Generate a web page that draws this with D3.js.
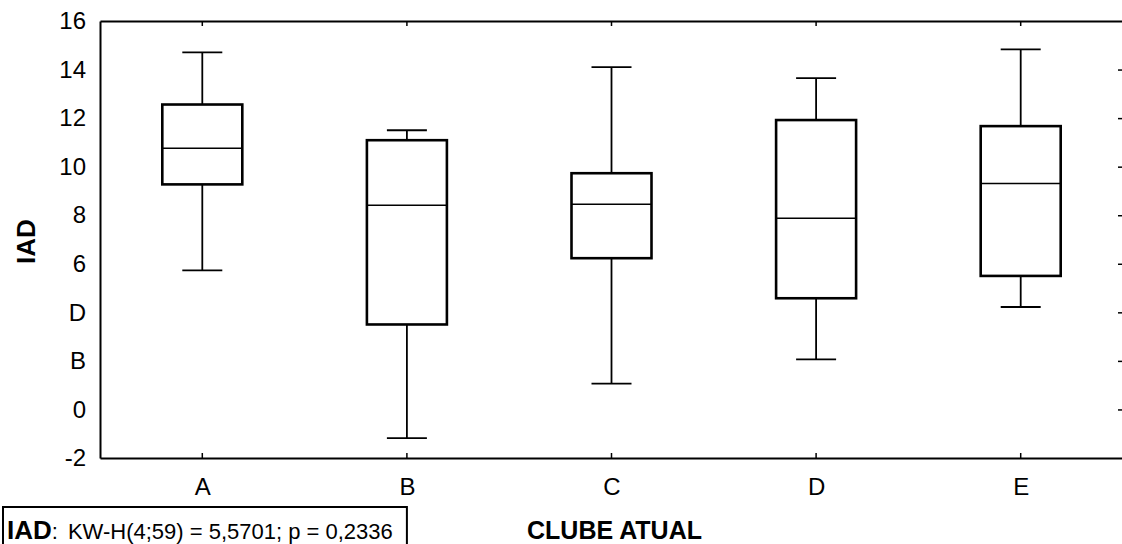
<!DOCTYPE html>
<html>
<head>
<meta charset="utf-8">
<script src="https://cdn.jsdelivr.net/npm/d3@7"></script>
<style>
  body { margin: 0; background: #fff; }
  svg { display: block; font-family: "Liberation Sans", Arial, sans-serif; }
</style>
</head>
<body>
<svg id="chart" width="1122" height="544"></svg>
<script>
// Data
var categories = ["A", "B", "C", "D", "E"];
var whiskerLow = [5.73, -1.18, 1.06, 2.06, 4.22];
var boxLow = [9.27, 3.50, 6.23, 4.58, 5.50];
var medians = [10.76, 8.41, 8.45, 7.88, 9.31];
var boxHigh = [12.56, 11.09, 9.73, 11.92, 11.67];
var whiskerHigh = [14.71, 11.50, 14.10, 13.65, 14.83];

var yTickValues = [-2, 0, 2, 4, 6, 8, 10, 12, 14, 16];
var yTickLabels = ["-2", "0", "B", "D", "6", "8", "10", "12", "14", "16"];

var xTitle = "CLUBE ATUAL";
var yTitle = "IAD";
var statLabel = "IAD";
var statText = "KW-H(4;59) = 5,5701; p = 0,2336";

const margin = { left: 100, right: 1123, top: 21, bottom: 458 };

const svg = d3.select("#chart");

const xScale = d3.scalePoint()
  .domain(categories)
  .range([margin.left, margin.right])
  .padding(0.5);

const yScale = d3.scaleLinear()
  .domain([-2, 16])
  .range([margin.bottom, margin.top]);

var boxes = categories.map(function (c, i) {
  return { cat: c, wl: whiskerLow[i], q1: boxLow[i], med: medians[i], q3: boxHigh[i], wh: whiskerHigh[i] };
});

// Left axis with labels
var yAxis = svg.append("g")
  .attr("transform", `translate(${margin.left},0)`)
  .call(d3.axisLeft(yScale)
    .tickValues(yTickValues)
    .tickFormat(function (d, i) { return yTickLabels[i]; })
    .tickSize(0)
    .tickPadding(14));
yAxis.select(".domain").attr("stroke", "#000").attr("stroke-width", 2);
yAxis.selectAll("text").style("font-size", "24px").attr("fill", "#000");

// Right side ticks (no labels)
var rightAxis = svg.append("g")
  .attr("transform", `translate(1122,0)`)
  .call(d3.axisLeft(yScale)
    .tickValues(yTickValues.slice(1, -1))
    .tickFormat("")
    .tickSize(4));
rightAxis.select(".domain").remove();
rightAxis.selectAll("line").attr("stroke", "#000").attr("stroke-width", 1.5);

// Bottom axis
var xAxis = svg.append("g")
  .attr("transform", `translate(0,${margin.bottom})`)
  .call(d3.axisBottom(xScale).tickSize(0).tickPadding(20).tickSizeOuter(0));
xAxis.select(".domain").attr("stroke", "#000").attr("stroke-width", 2);
xAxis.selectAll("text").style("font-size", "24px").attr("fill", "#000");

// inner tick marks on bottom and top borders
svg.append("g").selectAll("line")
  .data(categories)
  .enter()
  .append("line")
  .attr("x1", function (d) { return xScale(d); })
  .attr("x2", function (d) { return xScale(d); })
  .attr("y1", margin.bottom)
  .attr("y2", margin.bottom - 5)
  .attr("stroke", "#000")
  .attr("stroke-width", 1.5);

var topAxis = svg.append("g")
  .attr("transform", `translate(0,${margin.top})`)
  .call(d3.axisTop(xScale).tickSize(0).tickFormat("").tickSizeOuter(0));
topAxis.select(".domain").attr("stroke", "#000").attr("stroke-width", 2);

svg.append("g").selectAll("line")
  .data(categories)
  .enter()
  .append("line")
  .attr("x1", function (d) { return xScale(d); })
  .attr("x2", function (d) { return xScale(d); })
  .attr("y1", margin.top)
  .attr("y2", margin.top + 5)
  .attr("stroke", "#000")
  .attr("stroke-width", 1.5);

// Boxes
var boxW = 80, capW = 40;
var g = svg.append("g")
  .selectAll("g")
  .data(boxes)
  .enter()
  .append("g");

// whiskers
g.append("line")
  .attr("x1", function (d) { return xScale(d.cat); })
  .attr("x2", function (d) { return xScale(d.cat); })
  .attr("y1", function (d) { return yScale(d.wh); })
  .attr("y2", function (d) { return yScale(d.q3); })
  .attr("stroke", "#000").attr("stroke-width", 1.8);
g.append("line")
  .attr("x1", function (d) { return xScale(d.cat); })
  .attr("x2", function (d) { return xScale(d.cat); })
  .attr("y1", function (d) { return yScale(d.q1); })
  .attr("y2", function (d) { return yScale(d.wl); })
  .attr("stroke", "#000").attr("stroke-width", 1.8);
// caps
g.append("line")
  .attr("x1", function (d) { return xScale(d.cat) - capW / 2; })
  .attr("x2", function (d) { return xScale(d.cat) + capW / 2; })
  .attr("y1", function (d) { return yScale(d.wh); })
  .attr("y2", function (d) { return yScale(d.wh); })
  .attr("stroke", "#000").attr("stroke-width", 1.8);
g.append("line")
  .attr("x1", function (d) { return xScale(d.cat) - capW / 2; })
  .attr("x2", function (d) { return xScale(d.cat) + capW / 2; })
  .attr("y1", function (d) { return yScale(d.wl); })
  .attr("y2", function (d) { return yScale(d.wl); })
  .attr("stroke", "#000").attr("stroke-width", 1.8);
// box
g.append("rect")
  .attr("x", function (d) { return xScale(d.cat) - boxW / 2; })
  .attr("width", boxW)
  .attr("y", function (d) { return yScale(d.q3); })
  .attr("height", function (d) { return yScale(d.q1) - yScale(d.q3); })
  .attr("fill", "#fff")
  .attr("stroke", "#000")
  .attr("stroke-width", 2.6);
// median
g.append("line")
  .attr("x1", function (d) { return xScale(d.cat) - boxW / 2; })
  .attr("x2", function (d) { return xScale(d.cat) + boxW / 2; })
  .attr("y1", function (d) { return yScale(d.med); })
  .attr("y2", function (d) { return yScale(d.med); })
  .attr("stroke", "#000").attr("stroke-width", 1.5);

// Axis titles
svg.append("text")
  .attr("transform", `translate(35,${(margin.top + margin.bottom) / 2 + 2}) rotate(-90)`)
  .attr("text-anchor", "middle")
  .style("font-size", "26px")
  .style("font-weight", "bold")
  .text(yTitle);

svg.append("text")
  .attr("x", xScale("C") + 3)
  .attr("y", 539)
  .attr("text-anchor", "middle")
  .style("font-size", "25px")
  .style("font-weight", "bold")
  .text(xTitle);

// Stats box
svg.append("rect")
  .attr("x", 3)
  .attr("y", 507)
  .attr("width", xScale("B") - 3)
  .attr("height", 50)
  .attr("fill", "none")
  .attr("stroke", "#000")
  .attr("stroke-width", 2);

var st = svg.append("text")
  .attr("x", 7)
  .attr("y", 539);
st.append("tspan")
  .style("font-size", "26px")
  .style("font-weight", "bold")
  .text(statLabel);
st.append("tspan")
  .style("font-size", "22px")
  .text(":");
st.append("tspan")
  .attr("dx", 10)
  .style("font-size", "22px")
  .text(statText);
</script>
</body>
</html>
